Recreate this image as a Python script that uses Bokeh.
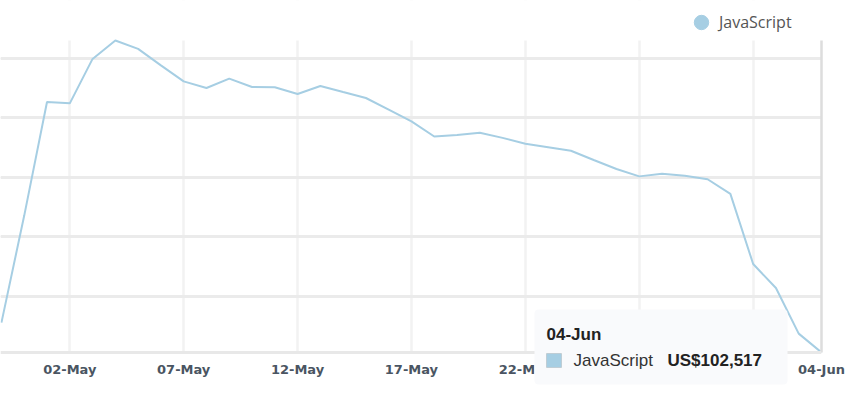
from datetime import datetime, timedelta
from bokeh.plotting import figure
from bokeh.models import (Range1d, FixedTicker, DatetimeTickFormatter, Grid, Legend,
                          LegendItem, BoxAnnotation, Label, Span, ColumnDataSource,
                          LinearAxis)
from bokeh.embed import file_html
from bokeh.resources import INLINE

# ---------------- data ----------------
series_name = "JavaScript"
dates = [
    "2023-04-29", "2023-04-30",
    "2023-05-01", "2023-05-02", "2023-05-03", "2023-05-04", "2023-05-05", "2023-05-06",
    "2023-05-07", "2023-05-08", "2023-05-09", "2023-05-10", "2023-05-11", "2023-05-12",
    "2023-05-13", "2023-05-14", "2023-05-15", "2023-05-16", "2023-05-17", "2023-05-18",
    "2023-05-19", "2023-05-20", "2023-05-21", "2023-05-22", "2023-05-23", "2023-05-24",
    "2023-05-25", "2023-05-26", "2023-05-27", "2023-05-28", "2023-05-29", "2023-05-30",
    "2023-05-31", "2023-06-01", "2023-06-02", "2023-06-03", "2023-06-04",
]
values = [
    127700, 217800,
    313400, 312300, 349700, 365200, 358100, 344300,
    330800, 325200, 333100, 326000, 325800, 320100,
    326900, 321800, 316800, 307000, 297100, 284400,
    285700, 287600, 283200, 278300, 275400, 272400,
    264600, 257000, 250800, 253000, 251400, 248400,
    236100, 177000, 156800, 118400, 102517,
]
tick_dates = ["2023-05-02", "2023-05-07", "2023-05-12", "2023-05-17",
              "2023-05-22", "2023-05-27", "2023-06-01", "2023-06-04"]
ygrid_values = [150000, 200000, 250000, 300000, 350000]

LINE_COLOR = "#a6cee3"

# ---------------- helpers ----------------
def to_dt(s):
    return datetime.strptime(s, "%Y-%m-%d")

def ms(dt):
    return (dt - datetime(1970, 1, 1)).total_seconds() * 1000.0

xs = [to_dt(d) for d in dates]
y_min = min(values)
y_max = max(values)

W, H = 856, 386
FL, FR, FT, FB = 0, 821, 0, 386     # frame edges (canvas px)
PLOT_TOP, PLOT_BOT = 40, 352         # visible plotting band (canvas px)

x_start = xs[0] - timedelta(hours=1)
x_end = xs[-1]
per_px = (y_max - y_min) / (PLOT_BOT - PLOT_TOP)
y_end = y_max + (PLOT_TOP - FT) * per_px
y_start = y_min - (FB - PLOT_BOT) * per_px

def dx(sx):
    return ms(x_start) + (ms(x_end) - ms(x_start)) * (sx - FL) / (FR - FL)

def dy(sy):
    return y_end - (y_end - y_start) * (sy - FT) / (FB - FT)

# ---------------- figure ----------------
p = figure(width=W, height=H, x_axis_type="datetime",
           x_range=Range1d(x_start, x_end), y_range=Range1d(y_start, y_end),
           output_backend="svg", toolbar_location=None, y_axis_location=None,
           min_border_left=FL, min_border_right=W - FR,
           min_border_top=FT, min_border_bottom=H - FB)
p.outline_line_color = None
p.background_fill_color = "white"
p.border_fill_color = "white"
# off-screen range used only by the legend's marker proxy
p.extra_y_ranges = {"legend_proxy": Range1d(start=-2, end=-1)}

xticker = FixedTicker(ticks=[ms(to_dt(d)) for d in tick_dates])
ax = p.xaxis[0]
ax.ticker = xticker
fmt = "%d-%b"
ax.formatter = DatetimeTickFormatter(days=fmt, months=fmt, hours=fmt, years=fmt,
                                     hourmin=fmt, minutes=fmt, minsec=fmt,
                                     seconds=fmt, milliseconds=fmt, microseconds=fmt)
ax.major_tick_line_color = None
ax.minor_tick_line_color = None
ax.major_tick_out = 0
ax.major_tick_in = 0
ax.axis_line_color = None
ax.major_label_standoff = -25
ax.major_label_text_font = "DejaVu Sans"
ax.major_label_text_font_style = "bold"
ax.major_label_text_font_size = "13px"
ax.major_label_text_color = "#4a5562"

# right edge line: an unlabeled right axis bounded to the data band
raxis = LinearAxis(ticker=FixedTicker(ticks=[]), bounds=(y_min, y_max),
                   axis_line_color="#dddddd", axis_line_width=2.5,
                   major_tick_line_color=None, minor_tick_line_color=None,
                   major_label_text_alpha=0)
p.add_layout(raxis, "right")

p.xgrid.ticker = xticker
p.xgrid.grid_line_color = "#f2f2f2"
p.xgrid.grid_line_width = 2.5

p.add_layout(Grid(dimension=1, ticker=FixedTicker(ticks=ygrid_values),
                  grid_line_color="#ebebeb", grid_line_width=3))

# white covers outside the plotting band (hide grid overhang)
p.add_layout(BoxAnnotation(top=y_min, fill_color="white", fill_alpha=1.0,
                           line_alpha=0, level="underlay"))
p.add_layout(BoxAnnotation(bottom=y_max, fill_color="white", fill_alpha=1.0,
                           line_alpha=0, level="underlay"))

# baseline
p.add_layout(Span(location=y_min, dimension="width",
                  line_color="#e8e8e8", line_width=3))

src = ColumnDataSource(data=dict(x=xs, y=values))
p.line("x", "y", source=src, line_color=LINE_COLOR, line_width=2)

# legend: circle-marker proxy renderer on an off-screen range (clipped away)
leg_r = p.scatter("x", "y", source=src, y_range_name="legend_proxy",
                  marker="circle", size=15,
                  fill_color=LINE_COLOR, line_color=LINE_COLOR)
legend = Legend(items=[LegendItem(label=series_name, renderers=[leg_r])],
                location=(683, FB - 40), orientation="horizontal",
                glyph_width=36, glyph_height=36, label_standoff=0,
                padding=0, margin=0, spacing=0,
                border_line_alpha=0, background_fill_alpha=0,
                label_text_font="Open Sans", label_text_font_size="16px",
                label_text_color="#555555")
p.add_layout(legend, "center")

# static tooltip
p.add_layout(BoxAnnotation(left=dx(534), right=dx(787), top=dy(309), bottom=dy(384),
                           fill_color="#f9fafc", fill_alpha=1.0, line_alpha=0,
                           border_radius=4))
p.add_layout(BoxAnnotation(left=dx(546), right=dx(561), top=dy(353), bottom=dy(367),
                           fill_color=LINE_COLOR, fill_alpha=1.0,
                           line_color="#999999", line_width=1))
tip_font = "Liberation Sans"
p.add_layout(Label(x=dx(546), y=dy(334), text=xs[-1].strftime("%d-%b"),
                   text_font=tip_font, text_font_style="bold", text_font_size="17px",
                   text_color="#222222", text_baseline="alphabetic"))
p.add_layout(Label(x=dx(573), y=dy(360), text=series_name,
                   text_font=tip_font, text_font_size="17px",
                   text_color="#333333", text_baseline="alphabetic"))
p.add_layout(Label(x=dx(667), y=dy(360), text=f"US${values[-1]:,}",
                   text_font=tip_font, text_font_style="bold", text_font_size="17px",
                   text_color="#222222", text_baseline="alphabetic"))

open("out.html", "w").write(file_html(p, INLINE))
